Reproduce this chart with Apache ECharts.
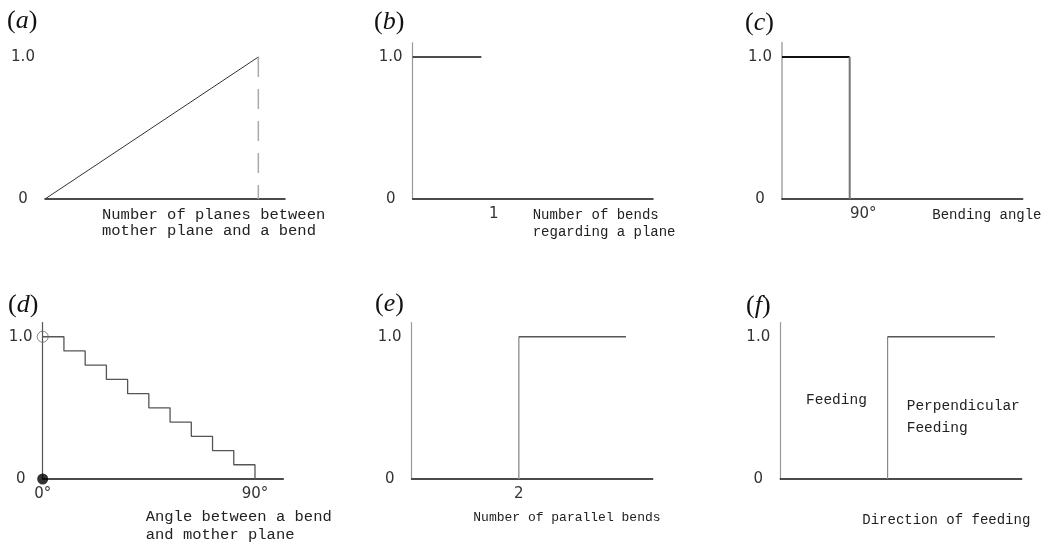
<!DOCTYPE html>
<html>
<head>
<meta charset="utf-8">
<style>html,body{margin:0;padding:0;background:#fff}#c{width:1053px;height:544px}</style>
<script src="https://cdn.jsdelivr.net/npm/echarts@6/dist/echarts.min.js"></script>
</head>
<body>
<div id="c"></div>
<script>
// ---- data ----
const panelLabels = ['a', 'b', 'c', 'd', 'e', 'f'];
const yTickLabels = ['0', '1.0'];
// (a) linear rise to 1.0, dashed drop line at the end
const aX = [0, 4];
const aY = [0, 1.0];
const aDropX = [4, 4];
const aDropY = [1.0, 0];
// (b) 1.0 up to one bend
const bX = [0, 1];
const bY = [1.0, 1.0];
const bTicks = [1];
// (c) 1.0 up to 90 degrees
const cTopX = [0, 90];
const cTopY = [1.0, 1.0];
const cDropX = [90, 90];
const cDropY = [1.0, 0];
const cTicks = [90];
// (d) staircase decreasing in 9-degree steps
const dX = [0, 9, 18, 27, 36, 45, 54, 63, 72, 81, 90];
const dY = [1.0, 0.9, 0.8, 0.7, 0.6, 0.5, 0.4, 0.3, 0.2, 0.1, 0];
const dOpen = [[0, 1.0]];
const dFilled = [[0, 0]];
const dTicks = [0, 90];
// (e) step up at 2 parallel bends
const eRiseX = [2, 2];
const eRiseY = [0, 1.0];
const eTopX = [2, 4];
const eTopY = [1.0, 1.0];
const eTicks = [2];
// (f) step between feeding directions
const fRiseX = [2, 2];
const fRiseY = [0, 1.0];
const fTopX = [2, 4];
const fTopY = [1.0, 1.0];

const axisNames = {
  a: 'Number of planes between\nmother plane and a bend',
  b: 'Number of bends\nregarding a plane',
  c: 'Bending angle',
  d: 'Angle between a bend\nand mother plane',
  e: 'Number of parallel bends',
  f: 'Direction of feeding'
};
const fAnnot = ['Feeding', 'Perpendicular\nFeeding'];

// ---- build ----
const zip = (xs, ys) => xs.map((x, i) => [x, ys[i]]);
const mono = 'Liberation Mono';
const grids = [
  {left: 45, top: 42.8, width: 240, height: 156.2},
  {left: 412.7, top: 42.8, width: 240.3, height: 156.2},
  {left: 782, top: 42.8, width: 240.7, height: 156.2},
  {left: 42.7, top: 322.5, width: 240.6, height: 156.5},
  {left: 411.7, top: 322.5, width: 241, height: 156.5},
  {left: 780.3, top: 322.5, width: 241.4, height: 156.5}
].map(g => Object.assign({outerBoundsMode: 'none', containLabel: false}, g));

const yAxisLineColors = [null, '#999', '#bbb', '#555', '#999', '#999'];
const yAxes = grids.map((g, i) => ({
  type: 'value', gridIndex: i, min: 0, max: 1.1, interval: 1,
  axisLine: {show: i !== 0, lineStyle: {color: yAxisLineColors[i] || '#999', width: i === 2 ? 2 : 1.2}},
  axisTick: {show: false}, splitLine: {show: false},
  axisLabel: {
    margin: 22, align: 'center', color: '#333', fontFamily: 'DejaVu Sans', fontSize: 15,
    formatter: v => (v === 0 ? yTickLabels[0] : (v === 1 ? yTickLabels[1] : ''))
  }
}));

const xLabelBase = {margin: 7, color: '#333', fontFamily: 'DejaVu Sans', fontSize: 15, lineHeight: 16};
const xAxes = [
  {max: 4.5, interval: 1, axisLabel: {show: false}},
  {max: 3.5, interval: 1, axisLabel: Object.assign({}, xLabelBase, {padding: [0, 0, 0, 25], formatter: v => bTicks.includes(v) ? String(v) : ''})},
  {max: 320, interval: 90, axisLabel: Object.assign({}, xLabelBase, {padding: [0, 0, 0, 27], formatter: v => cTicks.includes(v) ? v + '°' : ''})},
  {max: 102, interval: 90, axisLabel: Object.assign({}, xLabelBase, {formatter: v => dTicks.includes(v) ? v + '°' : ''})},
  {max: 4.5, interval: 1, axisLabel: Object.assign({}, xLabelBase, {formatter: v => eTicks.includes(v) ? String(v) : ''})},
  {max: 4.5, interval: 1, axisLabel: {show: false}}
].map((a, i) => Object.assign({
  type: 'value', gridIndex: i, min: 0,
  axisLine: {show: true, onZero: false, lineStyle: {color: '#111', width: 1.5}},
  axisTick: {show: false}, splitLine: {show: false}
}, a));

function line(i, data, color, width, type) {
  return {
    type: 'line', xAxisIndex: i, yAxisIndex: i, data: data, showSymbol: false, silent: true,
    animation: false, lineStyle: {color: color, width: width, type: type || 'solid'}, z: 3
  };
}

const series = [
  line(0, zip(aX, aY), '#333', 1),
  line(0, zip(aDropX, aDropY), '#aaa', 1.5, [20, 12]),
  line(1, zip(bX, bY), '#111', 1.5),
  line(2, zip(cTopX, cTopY), '#111', 2),
  line(2, zip(cDropX, cDropY), '#777', 2),
  Object.assign(line(3, zip(dX, dY), '#555', 1.3), {step: 'end'}),
  {type: 'scatter', xAxisIndex: 3, yAxisIndex: 3, data: dOpen, symbol: 'circle', symbolSize: 11, silent: true, animation: false,
    itemStyle: {color: 'rgba(255,255,255,0)', borderColor: '#666', borderWidth: 1}, z: 5},
  {type: 'scatter', xAxisIndex: 3, yAxisIndex: 3, data: dFilled, symbol: 'circle', symbolSize: 11, silent: true, animation: false,
    itemStyle: {color: '#000'}, z: 5},
  line(4, zip(eRiseX, eRiseY), '#999', 1.5),
  line(4, zip(eTopX, eTopY), '#555', 1.5),
  line(5, zip(fRiseX, fRiseY), '#888', 1.2),
  line(5, zip(fTopX, fTopY), '#555', 1.5)
];

// panel labels "(a)" ... with italic letter
const labelPos = [[7, 8], [374, 9], [745, 10], [8, 292], [375, 291], [746, 293]];
const titles = panelLabels.map((p, i) => ({
  text: '{p|(}{i|' + p + '}{p|)}', left: labelPos[i][0], top: labelPos[i][1], padding: 0,
  textStyle: {fontWeight: 'normal', rich: {
    p: {fontFamily: 'Liberation Serif', fontWeight: 'normal', fontSize: 26, lineHeight: 26, color: '#111'},
    i: {fontFamily: 'Liberation Serif', fontWeight: 'normal', fontStyle: 'italic', fontSize: 26, lineHeight: 26, color: '#111'}
  }}
}));
const namePos = {
  a: [102, 207, 15.5, 16], b: [532.7, 206.5, 14, 17], c: [932.3, 207, 14, 16],
  d: [145.7, 507.5, 15.5, 18], e: [473.3, 510, 13, 16], f: [862.3, 512, 14, 16]
};
Object.keys(axisNames).forEach(k => {
  const p = namePos[k];
  titles.push({
    text: axisNames[k], left: p[0], top: p[1], padding: 0,
    textStyle: {fontFamily: mono, fontWeight: 'normal', fontSize: p[2], lineHeight: p[3], color: '#222'}
  });
});
titles.push({text: fAnnot[0], left: 806, top: 392.5, padding: 0,
  textStyle: {fontFamily: mono, fontWeight: 'normal', fontSize: 14.5, lineHeight: 16, color: '#222'}});
titles.push({text: fAnnot[1], left: 906.7, top: 395, padding: 0,
  textStyle: {fontFamily: mono, fontWeight: 'normal', fontSize: 14.5, lineHeight: 22, color: '#222'}});

const chart = echarts.init(document.getElementById('c'), null, {renderer: 'canvas'});
chart.setOption({
  backgroundColor: '#fff',
  animation: false,
  title: titles,
  grid: grids,
  xAxis: xAxes,
  yAxis: yAxes,
  series: series
});
</script>
</body>
</html>
